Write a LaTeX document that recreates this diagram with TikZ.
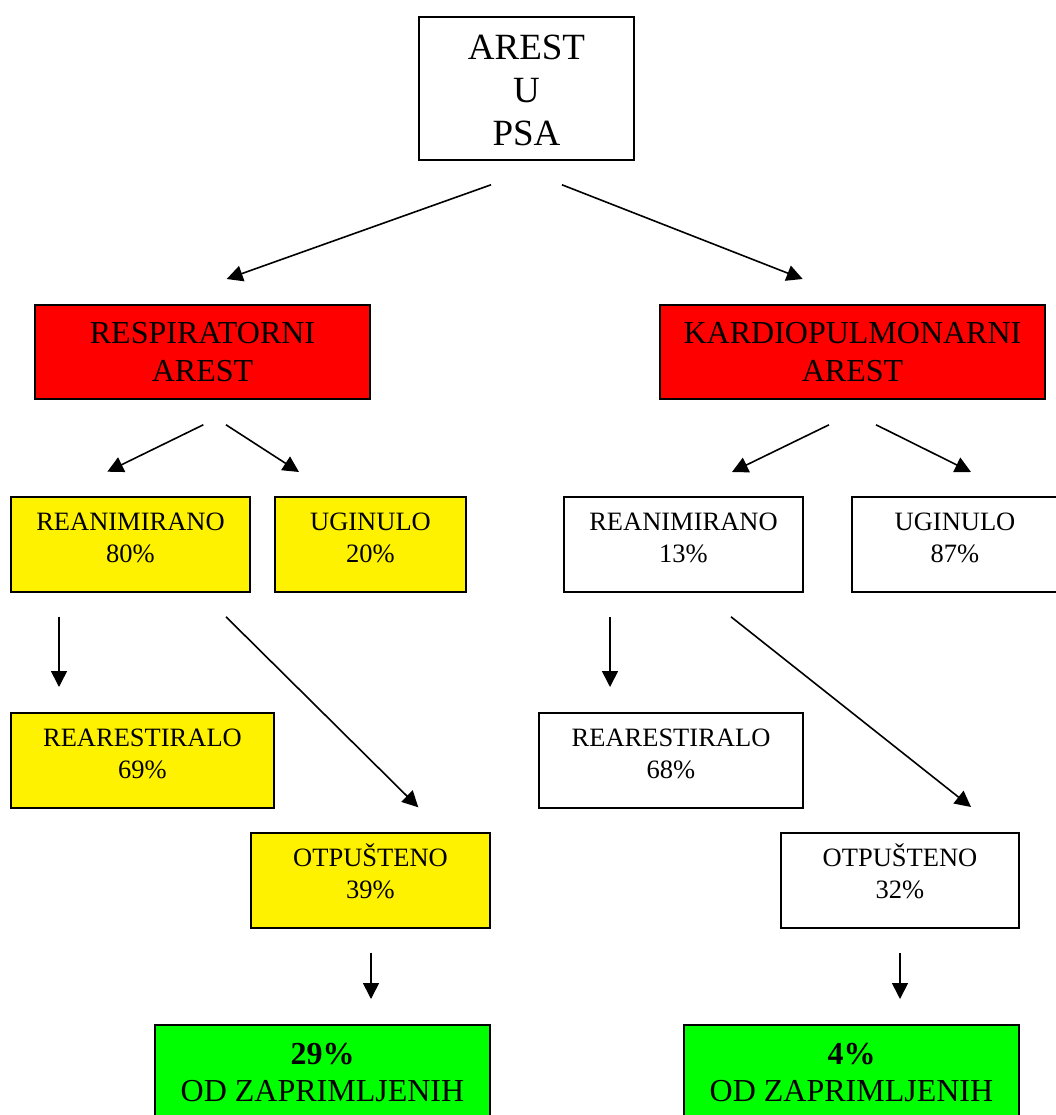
\documentclass[tikz,border=0pt]{standalone}
\usepackage{fontspec}
\setmainfont{Liberation Serif}
\usetikzlibrary{arrows.meta}
\newcommand\mlines[1]{\begin{tabular}[t]{@{}c@{}}#1\end{tabular}}
\begin{document}
\begin{tikzpicture}[x=1pt,y=-1pt,
  box/.style={draw=black, line width=1.8pt, rectangle, anchor=north, inner sep=0pt},
  big/.style={font=\fontsize{37}{43}\selectfont, anchor=base, inner sep=0pt},
  mid/.style={font=\fontsize{32}{38}\selectfont, anchor=base, inner sep=0pt},
  grn/.style={font=\fontsize{32}{37}\selectfont, anchor=base, inner sep=0pt},
  small/.style={font=\fontsize{26.5}{32}\selectfont, anchor=base, inner sep=0pt},
  arr/.style={line width=1.6pt, -{Triangle[length=16pt,width=16pt]}},
]
\useasboundingbox (0,0) rectangle (1056,1115);
\fill[white] (0,0) rectangle (1056,1115);
\clip (0,0) rectangle (1056,1115);

% boxes
\node[box, fill=white,  minimum width=215, minimum height=143] (topb)   at (526.5,16) {};
\node[box, fill=red,    minimum width=335, minimum height=94]  (resp)   at (202.5,304) {};
\node[box, fill=red,    minimum width=385, minimum height=94]  (kard)   at (852.5,304) {};
\node[box, fill=yellow, minimum width=239, minimum height=95]  (rean1)  at (130.5,496) {};
\node[box, fill=yellow, minimum width=191, minimum height=95]  (ugin1)  at (370.5,496) {};
\node[box, fill=white,  minimum width=239, minimum height=95]  (rean2)  at (683.5,496) {};
\node[box, fill=white,  minimum width=217, minimum height=95]  (ugin2)  at (960.5,496) {};
\node[box, fill=yellow, minimum width=263, minimum height=95]  (rear1)  at (142.5,712) {};
\node[box, fill=white,  minimum width=264, minimum height=95]  (rear2)  at (671,712) {};
\node[box, fill=yellow, minimum width=239, minimum height=95]  (otp1)   at (370.5,832) {};
\node[box, fill=white,  minimum width=238, minimum height=95]  (otp2)   at (900,832) {};
\node[box, fill=green,  minimum width=335, minimum height=150] (green1) at (322.5,1024) {};
\node[box, fill=green,  minimum width=335, minimum height=150] (green2) at (851.5,1024) {};

% texts
\node[big]   (ttop)    at (526.5,60)   {\mlines{AREST\\U\\PSA}};
\node[mid]   (tresp)   at (202.5,343)  {\mlines{RESPIRATORNI\\AREST}};
\node[mid]   (tkard)   at (852.5,343)  {\mlines{KARDIOPULMONARNI\\AREST}};
\node[small] (trean1)  at (130.5,530.5) {\mlines{REANIMIRANO\\80\%}};
\node[small] (tugin1)  at (370.5,530.5) {\mlines{UGINULO\\20\%}};
\node[small] (trean2)  at (683.5,530.5) {\mlines{REANIMIRANO\\13\%}};
\node[small] (tugin2)  at (955,530.5)   {\mlines{UGINULO\\87\%}};
\node[small] (trear1)  at (142.5,746.5) {\mlines{REARESTIRALO\\69\%}};
\node[small] (trear2)  at (671,746.5)   {\mlines{REARESTIRALO\\68\%}};
\node[small] (totp1)   at (370.5,866.5) {\mlines{OTPUŠTENO\\39\%}};
\node[small] (totp2)   at (900,866.5)   {\mlines{OTPUŠTENO\\32\%}};
\node[grn]   (tgreen1) at (322.5,1064)  {\mlines{\textbf{29\%}\\OD ZAPRIMLJENIH}};
\node[grn]   (tgreen2) at (851.5,1064)  {\mlines{\textbf{4\%}\\OD ZAPRIMLJENIH}};

% arrows
\draw[arr] ([shift={(-35.5,24)}]topb.south) -- ([shift={(24.2,-25)}]resp.north);
\draw[arr] ([shift={(35.5,24)}]topb.south)  -- ([shift={(-49.8,-25)}]kard.north);

\draw[arr] ([shift={(0.8,25)}]resp.south)  -- ([shift={(-23.2,-24.3)}]rean1.north);
\draw[arr] ([shift={(23.5,25)}]resp.south) -- ([shift={(-71.5,-24)}]ugin1.north);

\draw[arr] ([shift={(-23.5,25)}]kard.south) -- ([shift={(48.5,-24)}]rean2.north);
\draw[arr] ([shift={(23.5,25)}]kard.south)  -- ([shift={(10.5,-24)}]ugin2.north);

\draw[arr] ([shift={(-71.5,24)}]rean1.south) -- ([shift={(-83.5,-25)}]rear1.north);
\draw[arr] ([shift={(95.5,24)}]rean1.south)  -- ([shift={(47.8,-24.7)}]otp1.north);

\draw[arr] ([shift={(-73.5,24)}]rean2.south) -- ([shift={(-61,-25)}]rear2.north);
\draw[arr] ([shift={(47.5,24)}]rean2.south)  -- ([shift={(71,-25)}]otp2.north);

\draw[arr] ([shift={(0.5,24)}]otp1.south) -- ([shift={(48.5,-25)}]green1.north);
\draw[arr] ([shift={(0,24)}]otp2.south)   -- ([shift={(48.5,-25)}]green2.north);
\end{tikzpicture}
\end{document}
